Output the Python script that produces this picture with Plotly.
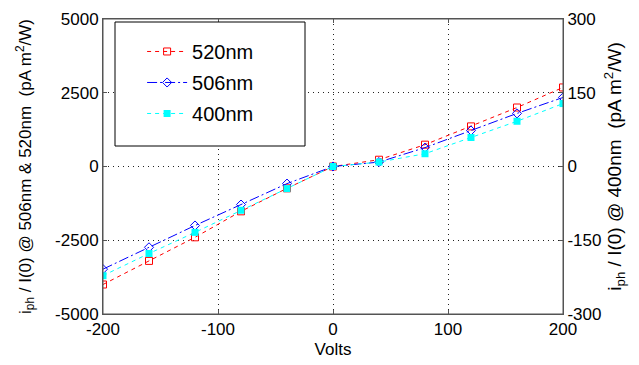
import plotly.graph_objects as go

volts = [-200, -160, -120, -80, -40, 0, 40, 80, 120, 160, 200]
i520 = [-4000, -3200, -2400, -1520, -740, 0, 230, 740, 1360, 2000, 2680]
i506 = [-3480, -2740, -2000, -1290, -580, 0, 150, 640, 1220, 1800, 2340]
i400 = [-222, -177, -134, -89, -45, 0, 9, 26, 59, 92, 128]

x_ticks = [-200, -100, 0, 100, 200]
x_ticklabels = ["-200", "-100", "0", "100", "200"]
y_ticks = [-5000, -2500, 0, 2500, 5000]
y_ticklabels = ["-5000", "-2500", "0", "2500", "5000"]
y2_ticks = [-300, -150, 0, 150, 300]
y2_ticklabels = ["-300", "-150", "0", "150", "300"]

font = "Liberation Sans, Arial, sans-serif"
fig = go.Figure()
fig.add_trace(go.Scatter(x=volts, y=i520, name="520nm", mode="lines+markers", legendgroup="a",
                         line=dict(color="red", width=1, dash="4px,4px"),
                         marker=dict(symbol="square-open", size=7, color="red", line=dict(width=1))))
fig.add_trace(go.Scatter(x=volts, y=i506, name="506nm", mode="lines+markers", legendgroup="b",
                         line=dict(color="blue", width=1, dash="10px,3px,2px,3px"),
                         marker=dict(symbol="diamond-open", size=7, color="blue", line=dict(width=1))))
fig.add_trace(go.Scatter(x=volts, y=i400, name="400nm", mode="lines+markers", yaxis="y2", legendgroup="c",
                         line=dict(color="cyan", width=1, dash="4px,4px"),
                         marker=dict(symbol="square", size=7, color="cyan")))

grid = dict(showgrid=True, gridcolor="#222", griddash="1px,4px", gridwidth=1, zeroline=False)
tickstyle = dict(ticks="inside", ticklen=4, tickcolor="#555", automargin=False,
                 tickfont=dict(family=font, size=17, color="black"))

fig.update_layout(
    width=631, height=357, plot_bgcolor="white", paper_bgcolor="white",
    margin=dict(l=95, r=76, t=11, b=51),
    font=dict(family=font, size=15, color="black"),
    xaxis=dict(range=[-200, 200], tickvals=x_ticks, ticktext=x_ticklabels, mirror="ticks",
               showline=True, linecolor="#555", linewidth=1,
               title=dict(text="Volts", font=dict(family=font, size=17), standoff=4),
               **grid, **tickstyle),
    yaxis=dict(range=[-5000, 5000], tickvals=y_ticks, ticktext=y_ticklabels,
               showline=True, linecolor="#555", linewidth=1,
               title=dict(text="i<sub>ph</sub> / I(0) @ 506nm & 520nm  (pA m<sup>2</sup>/W)",
                          font=dict(family=font, size=17), standoff=19),
               **grid, **tickstyle),
    yaxis2=dict(range=[-300, 300], tickvals=y2_ticks, ticktext=y2_ticklabels, overlaying="y", side="right",
                showline=True, linecolor="#555", linewidth=1, showgrid=False, zeroline=False,
                title=dict(text="i<sub>ph</sub> / I(0) @ 400nm  (pA m<sup>2</sup>/W)",
                           font=dict(family=font, size=19), standoff=6),
                **tickstyle),
    legend=dict(x=0.085, y=0.956, xanchor="left", yanchor="top", bgcolor="rgba(0,0,0,0)",
                borderwidth=0, font=dict(family=font, size=20), itemwidth=40, tracegroupgap=2),
    showlegend=True,
)
fig.add_shape(type="rect", xref="paper", yref="paper", x0=0, x1=1, y0=0, y1=1,
              line=dict(color="#555", width=1), layer="above")
fig.add_shape(type="rect", xref="paper", yref="paper", x0=12/460, x1=202/460,
              y0=1 - 127/295, y1=1 - 3/295, line=dict(color="black", width=1),
              fillcolor="white", layer="above")
fig.write_html("out.html")
